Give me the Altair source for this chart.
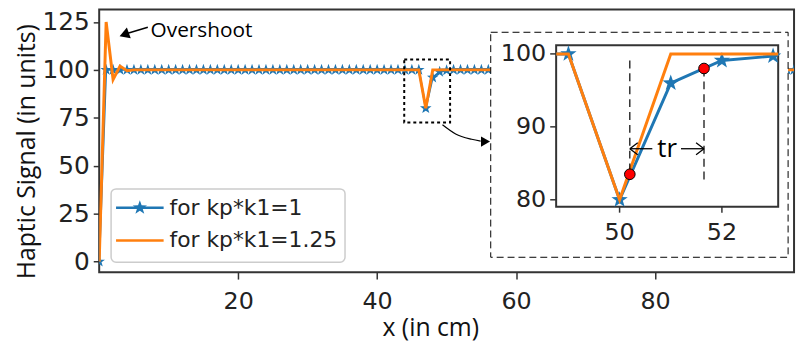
import altair as alt
import pandas as pd

# ---------------- data ----------------
x_main = [0, 1, 2, 3, 4, 5, 6, 7, 8, 9, 10, 11, 12, 13, 14, 15, 16, 17, 18, 19,
          20, 21, 22, 23, 24, 25, 26, 27, 28, 29, 30, 31, 32, 33, 34, 35, 36, 37, 38, 39,
          40, 41, 42, 43, 44, 45, 46, 47, 48, 49, 50, 51, 52, 53, 54, 55, 56, 57, 58, 59,
          60, 61, 62, 63, 64, 65, 66, 67, 68, 69, 70, 71, 72, 73, 74, 75, 76, 77, 78, 79,
          80, 81, 82, 83, 84, 85, 86, 87, 88, 89, 90, 91, 92, 93, 94, 95, 96, 97, 98, 99, 100]
blue_main = [0, 100, 100, 100, 100, 100, 100, 100, 100, 100, 100, 100, 100, 100, 100, 100, 100, 100, 100, 100,
             100, 100, 100, 100, 100, 100, 100, 100, 100, 100, 100, 100, 100, 100, 100, 100, 100, 100, 100, 100,
             100, 100, 100, 100, 100, 100, 100, 80, 96, 99, 99.7, 100, 100, 100, 100, 100, 100, 100, 100, 100,
             100, 100, 100, 100, 100, 100, 100, 100, 100, 100, 100, 100, 100, 100, 100, 100, 100, 100, 100, 100,
             100, 100, 100, 100, 100, 100, 100, 100, 100, 100, 100, 100, 100, 100, 100, 100, 100, 100, 100, 100, 100]
orange_main = [0, 125, 95, 102, 99.6, 100, 100, 100, 100, 100, 100, 100, 100, 100, 100, 100, 100, 100, 100, 100,
               100, 100, 100, 100, 100, 100, 100, 100, 100, 100, 100, 100, 100, 100, 100, 100, 100, 100, 100, 100,
               100, 100, 100, 100, 100, 100, 100, 80, 100, 100, 100, 100, 100, 100, 100, 100, 100, 100, 100, 100,
               100, 100, 100, 100, 100, 100, 100, 100, 100, 100, 100, 100, 100, 100, 100, 100, 100, 100, 100, 100,
               100, 100, 100, 100, 100, 100, 100, 100, 100, 100, 100, 100, 100, 100, 100, 100, 100, 100, 100, 100, 100]

x_ticks_main = [20, 40, 60, 80]
y_ticks_main = [0, 25, 50, 75, 100, 125]

# inset (zoom of the dip)
x_inset = [48, 49, 50, 51, 52, 53, 54]
blue_inset = [100, 100, 80, 96, 99.1, 99.7, 100]
orange_inset = [100, 100, 80, 100, 100, 100, 100]
x_ticks_inset = [50, 52]
y_ticks_inset = [80, 90, 100]

# rise-time markers
tr_x = [50.2, 51.65]
tr_y = [83.5, 98.0]
tr_top = [99.1, 98.0]
tr_bottom = [84.2, 82.2]

legend_labels = ["for kp*k1=1", "for kp*k1=1.25"]

BLUE = "#1f77b4"
ORANGE = "#ff7f0e"
STAR = ("M0,-1L0.235,-0.324L0.951,-0.309L0.380,0.124L0.588,0.809L0,0.4"
        "L-0.588,0.809L-0.380,0.124L-0.951,-0.309L-0.235,-0.324Z")
TICKFONT = "DejaVu Sans"
TEXTFONT = "Open Sans"

W, H = 701, 265
XDOM = [0, 100]
YDOM = [-5.5, 131.5]

main_df = pd.DataFrame({"x": x_main, "blue": blue_main, "orange": orange_main})

xs = alt.Scale(domain=XDOM, nice=False, zero=False)
ys = alt.Scale(domain=YDOM, nice=False, zero=False)
xaxis = alt.Axis(values=x_ticks_main, title="x (in cm)", grid=False, domain=False,
                 labelFont=TICKFONT, labelFontSize=24, labelColor="#222", labelPadding=11,
                 tickSize=7, tickColor="#333", tickWidth=1.5,
                 titleFont=TEXTFONT, titleFontSize=25, titleFontWeight="normal", titleColor="#111",
                 titleX=334, titleY=56, titleBaseline="middle", titleAlign="center")
yaxis = alt.Axis(values=y_ticks_main, title="Haptic Signal (in units)", grid=False, domain=False,
                 labelFont=TICKFONT, labelFontSize=25, labelColor="#222", labelPadding=4,
                 tickSize=6, tickColor="#333", tickWidth=1.5,
                 titleFont=TEXTFONT, titleFontSize=25, titleFontWeight="normal", titleColor="#111",
                 titleX=-65, titleY=143, titleBaseline="alphabetic", titleAlign="center", titleAngle=-90)

base = alt.Chart(main_df)
blue_line = base.mark_line(color=BLUE, strokeWidth=2, clip=True).encode(
    x=alt.X("x:Q", scale=xs, axis=xaxis), y=alt.Y("blue:Q", scale=ys, axis=yaxis))
blue_pts = base.mark_point(shape=STAR, filled=True, color=BLUE, size=150, opacity=1, clip=True).encode(
    x=alt.X("x:Q", scale=xs), y=alt.Y("blue:Q", scale=ys))
orange_line = base.mark_line(color=ORANGE, strokeWidth=3, clip=True).encode(
    x=alt.X("x:Q", scale=xs), y=alt.Y("orange:Q", scale=ys))

# dotted box around the dip
box_df = pd.DataFrame({"x1": [43.9], "x2": [50.5], "y1": [72.5], "y2": [105.4]})
dip_box = alt.Chart(box_df).mark_rect(fill=None, stroke="black", strokeWidth=2, strokeDash=[3, 3]).encode(
    x=alt.X("x1:Q", scale=xs), x2="x2:Q", y=alt.Y("y1:Q", scale=ys), y2="y2:Q")

# curved arrow from dip box to inset
curve_df = pd.DataFrame({"x": [49.4, 51.3, 53.6, 54.9], "y": [71.4, 66.6, 63.8, 62.8], "o": [0, 1, 2, 3]})
curve = alt.Chart(curve_df).mark_line(color="black", strokeWidth=1.2, interpolate="monotone").encode(
    x=alt.X("x:Q", scale=xs), y=alt.Y("y:Q", scale=ys), order="o:O")
head_df = pd.DataFrame({"x": [55.6], "y": [62.6]})
curve_head = alt.Chart(head_df).mark_point(shape="triangle-right", filled=True, color="black",
                                           size=110, opacity=1).encode(
    x=alt.X("x:Q", scale=xs), y=alt.Y("y:Q", scale=ys))

# overshoot annotation
os_line_df = pd.DataFrame({"x": [4.0, 7.0], "y": [119.0, 122.2]})
os_line = alt.Chart(os_line_df).mark_line(color="black", strokeWidth=1.5).encode(
    x=alt.X("x:Q", scale=xs), y=alt.Y("y:Q", scale=ys))
os_head_df = pd.DataFrame({"x": [3.6], "y": [118.4]})
os_head = alt.Chart(os_head_df).mark_point(shape="triangle-left", filled=True, color="black",
                                           size=130, angle=340, opacity=1).encode(
    x=alt.X("x:Q", scale=xs), y=alt.Y("y:Q", scale=ys))
os_text_df = pd.DataFrame({"x": [7.4], "y": [120.0], "t": ["Overshoot"]})
os_text = alt.Chart(os_text_df).mark_text(font=TEXTFONT, fontSize=21, align="left", baseline="middle",
                                          color="black").encode(
    x=alt.X("x:Q", scale=xs), y=alt.Y("y:Q", scale=ys), text="t:N")

# manual legend (pixel positions inside plot area)
one = pd.DataFrame({"k": [0]})
leg_box = alt.Chart(one).mark_rect(fill="white", fillOpacity=0.85, stroke="#cccccc", strokeWidth=1.5,
                                   cornerRadius=5).encode(
    x=alt.value(12), x2=alt.value(248), y=alt.value(181), y2=alt.value(255))
leg_blue = alt.Chart(one).mark_rule(color=BLUE, strokeWidth=2.5).encode(
    x=alt.value(17), x2=alt.value(65), y=alt.value(200))
leg_star = alt.Chart(one).mark_point(shape=STAR, filled=True, color=BLUE, size=230, opacity=1).encode(
    x=alt.value(41), y=alt.value(200))
leg_orange = alt.Chart(one).mark_rule(color=ORANGE, strokeWidth=2.5).encode(
    x=alt.value(17), x2=alt.value(65), y=alt.value(233))
leg_t1 = alt.Chart(pd.DataFrame({"t": [legend_labels[0]]})).mark_text(
    font=TICKFONT, fontSize=22, align="left", baseline="middle", color="#222").encode(
    x=alt.value(71), y=alt.value(200), text="t:N")
leg_t2 = alt.Chart(pd.DataFrame({"t": [legend_labels[1]]})).mark_text(
    font=TICKFONT, fontSize=22, align="left", baseline="middle", color="#222").encode(
    x=alt.value(71), y=alt.value(233), text="t:N")

main = alt.layer(blue_line, blue_pts, orange_line, dip_box, curve, curve_head,
                 os_line, os_head, os_text, leg_box, leg_blue, leg_star, leg_orange, leg_t1, leg_t2)

# ---------------- inset ----------------
IX0, IX1, IY0, IY1 = 461, 685, 36, 199
ixs = alt.Scale(domain=[48.76, 53.1], range=[IX0, IX1], nice=False, zero=False, clamp=True)
iys = alt.Scale(domain=[79.05, 101.2], range=[IY1, IY0], nice=False, zero=False, clamp=True)

outer = alt.Chart(one).mark_rect(fill="white", stroke="black", strokeWidth=1, strokeDash=[7, 4]).encode(
    x=alt.value(395), x2=alt.value(695), y=alt.value(23), y2=alt.value(250))
frame_bg = alt.Chart(one).mark_rect(fill="white", stroke="#333", strokeWidth=2).encode(
    x=alt.value(IX0), x2=alt.value(IX1), y=alt.value(IY0), y2=alt.value(IY1))

inset_df = pd.DataFrame({"x": x_inset, "blue": blue_inset, "orange": orange_inset})
ib = alt.Chart(inset_df)
i_blue = ib.mark_line(color=BLUE, strokeWidth=3).encode(
    x=alt.X("x:Q", scale=ixs, axis=None), y=alt.Y("blue:Q", scale=iys, axis=None))
i_stars = ib.transform_filter("datum.x >= 49 && datum.x <= 53").mark_point(
    shape=STAR, filled=True, color=BLUE, size=300, opacity=1).encode(
    x=alt.X("x:Q", scale=ixs, axis=None), y=alt.Y("blue:Q", scale=iys, axis=None))
i_orange = ib.mark_line(color=ORANGE, strokeWidth=3).encode(
    x=alt.X("x:Q", scale=ixs, axis=None), y=alt.Y("orange:Q", scale=iys, axis=None))

tr_df = pd.DataFrame({"x": tr_x, "y": tr_y, "top": tr_top, "bot": tr_bottom})
i_dash = alt.Chart(tr_df).mark_rule(color="black", strokeWidth=1.2, strokeDash=[8, 5]).encode(
    x=alt.X("x:Q", scale=ixs, axis=None), y=alt.Y("top:Q", scale=iys, axis=None), y2="bot:Q")

arrow_df = pd.DataFrame({"x1": [50.2, 51.2], "x2": [50.64, 51.65], "y": [87.0, 87.0]})
i_arrows = alt.Chart(arrow_df).mark_rule(color="black", strokeWidth=1.3).encode(
    x=alt.X("x1:Q", scale=ixs, axis=None), x2="x2:Q", y=alt.Y("y:Q", scale=iys, axis=None))
lhead = alt.Chart(pd.DataFrame({"x": [50.2], "y": [87.0]})).mark_point(
    shape="M0,0L1,-0.75M0,0L1,0.75", filled=False, color="black", strokeWidth=1.3, size=256, opacity=1).encode(
    x=alt.X("x:Q", scale=ixs, axis=None), y=alt.Y("y:Q", scale=iys, axis=None))
rhead = alt.Chart(pd.DataFrame({"x": [51.65], "y": [87.0]})).mark_point(
    shape="M0,0L-1,-0.75M0,0L-1,0.75", filled=False, color="black", strokeWidth=1.3, size=256, opacity=1).encode(
    x=alt.X("x:Q", scale=ixs, axis=None), y=alt.Y("y:Q", scale=iys, axis=None))
tr_text = alt.Chart(pd.DataFrame({"x": [50.93], "y": [87.0], "t": ["tr"]})).mark_text(
    font=TEXTFONT, fontSize=26, align="center", baseline="middle", color="black").encode(
    x=alt.X("x:Q", scale=ixs, axis=None), y=alt.Y("y:Q", scale=iys, axis=None), text="t:N")

i_dots = alt.Chart(tr_df).mark_circle(color="red", size=115, opacity=1, stroke="black", strokeWidth=1).encode(
    x=alt.X("x:Q", scale=ixs, axis=None), y=alt.Y("y:Q", scale=iys, axis=None))

ixt = pd.DataFrame({"v": x_ticks_inset})
iyt = pd.DataFrame({"v": y_ticks_inset})
i_xticks = alt.Chart(ixt).mark_rule(color="#333", strokeWidth=1.5).encode(
    x=alt.X("v:Q", scale=ixs, axis=None), y=alt.value(IY1), y2=alt.value(IY1 + 6))
i_xlabels = alt.Chart(ixt).mark_text(font=TICKFONT, fontSize=24, baseline="middle", align="center",
                                     color="#222").encode(
    x=alt.X("v:Q", scale=ixs, axis=None), y=alt.value(IY1 + 27), text="v:Q")
i_yticks = alt.Chart(iyt).mark_rule(color="#333", strokeWidth=1.5).encode(
    y=alt.Y("v:Q", scale=iys, axis=None), x=alt.value(IX0 - 6), x2=alt.value(IX0))
i_ylabels = alt.Chart(iyt).mark_text(font=TICKFONT, fontSize=24, baseline="middle", align="right",
                                     color="#222").encode(
    y=alt.Y("v:Q", scale=iys, axis=None), x=alt.value(IX0 - 10), text="v:Q")

inset = alt.layer(outer, frame_bg, i_blue, i_stars, i_orange, i_dash, i_arrows, lhead, rhead,
                  tr_text, i_dots, i_xticks, i_xlabels, i_yticks, i_ylabels)

chart = alt.layer(main, inset).resolve_scale(x="independent", y="independent").properties(
    width=W, height=H,
    padding={"left": 92, "top": 0, "right": 5, "bottom": 70},
    autosize=alt.AutoSizeParams(type="none"),
    background="white",
).configure_view(stroke="#333", strokeWidth=2)

chart.save("out.html", embed_options={"renderer": "svg", "actions": False})
